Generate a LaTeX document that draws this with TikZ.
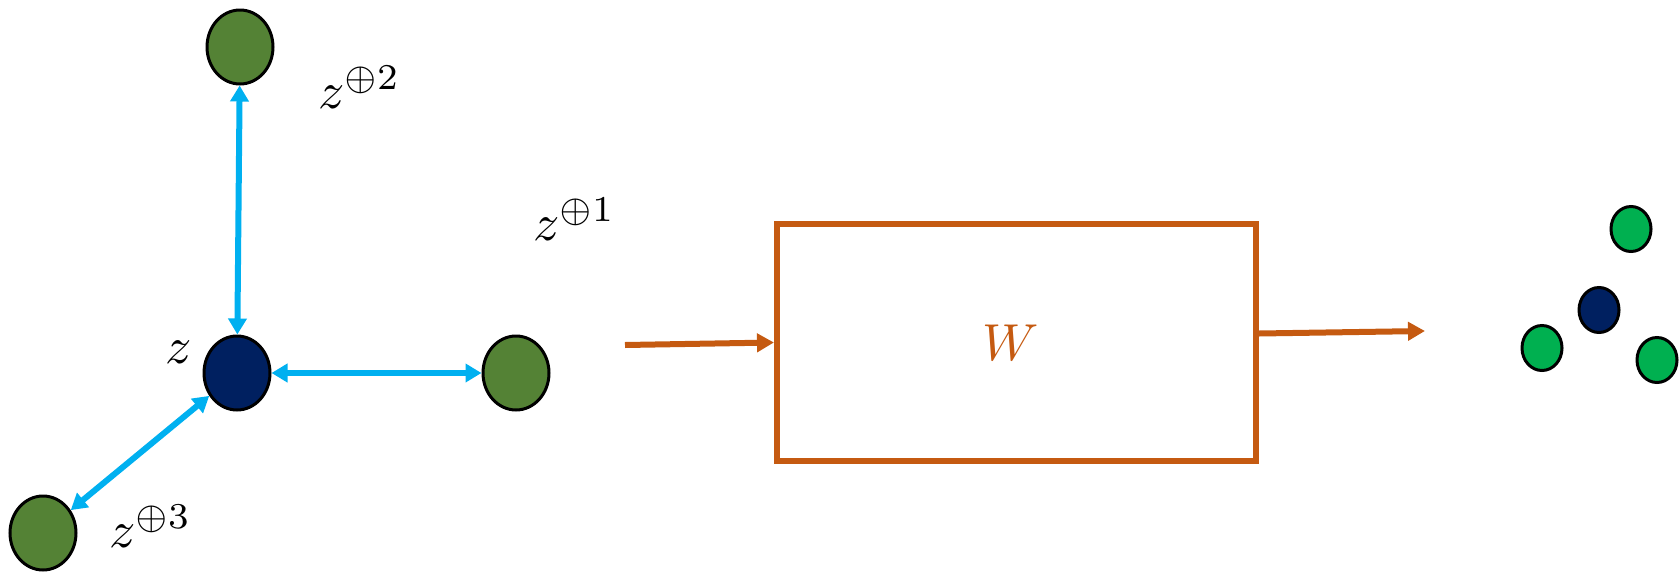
\documentclass[tikz,border=0pt]{standalone}
\usepackage{amsmath,amssymb}
\usetikzlibrary{arrows.meta,shapes.geometric}

\definecolor{leaf}{HTML}{548235}
\definecolor{navy}{HTML}{002060}
\definecolor{lime}{HTML}{00B050}
\definecolor{sky}{HTML}{00B0F0}
\definecolor{rust}{HTML}{C55A11}

\begin{document}
\begin{tikzpicture}[
    x=1pt, y=1pt,
    vec/.style={ellipse, draw=black, line width=3pt, minimum width=66pt, minimum height=74pt, inner sep=0pt},
    cluster/.style={ellipse, draw=black, line width=3pt, minimum width=40pt, minimum height=45pt, inner sep=0pt},
    lbl/.style={anchor=base west, inner sep=0pt, scale=5.2},
    link/.style={{Triangle[length=16pt,width=18pt]}-{Triangle[length=16pt,width=18pt]}, sky, line width=6pt},
    flow/.style={-{Triangle[length=17pt,width=18pt]}, rust, line width=6pt},
    wbox/.style={rectangle, draw=rust, line width=6pt, minimum width=479pt, minimum height=237pt},
]
    \useasboundingbox (0,0) rectangle (1679,-571);

    \node[vec, fill=leaf] (z2) at (240,-47) {};
    \node[vec, fill=navy] (z) at (237,-373) {};
    \node[vec, fill=leaf] (z1) at (516,-373) {};
    \node[vec, fill=leaf] (z3) at (43,-533) {};

    \node[lbl] (lz) at (164,-363) {$z$};
    \node[lbl] (lz2) at (317,-108) {$z^{\oplus 2}$};
    \node[lbl] (lz1) at (532,-240) {$z^{\oplus 1}$};
    \node[lbl] (lz3) at (108,-547) {$z^{\oplus 3}$};

    \draw[link] (z2) -- (z);
    \draw[link] (z) -- (z1);
    \draw[link] (z) -- (z3);

    \node[wbox] (w) at (1016.5,-342.5) {};
    \node[inner sep=0pt, scale=5.2, text=rust] (wl) at (1011,-343) {$W$};
    \coordinate (src) at (625,-345);
    \coordinate (dst) at (1425,-331);
    \draw[flow] (src) -- (w.west);
    \draw[flow] ([yshift=9pt]w.east) -- (dst);

    \node[cluster, fill=lime] (c1) at (1631,-229) {};
    \node[cluster, fill=navy] (c0) at (1599,-310) {};
    \node[cluster, fill=lime] (c2) at (1542,-348) {};
    \node[cluster, fill=lime] (c3) at (1657,-360) {};
\end{tikzpicture}
\end{document}
